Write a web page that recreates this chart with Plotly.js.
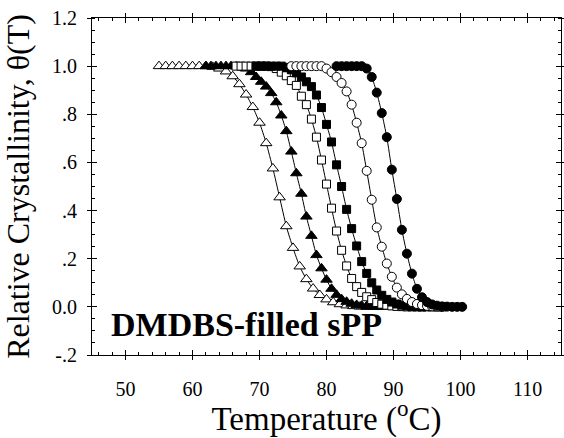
<!DOCTYPE html>
<html>
<head>
<meta charset="utf-8">
<script src="https://cdn.plot.ly/plotly-3.0.1.min.js"></script>
<style>html,body{margin:0;padding:0;background:#fff;}#chart{width:564px;height:438px;}</style>
</head>
<body>
<div id="chart"></div>
<script>
// Open triangles
const tOpenTri = [55,56,57,58,59,60,61,62,63,64,65,66,67,68,69,70,71,72,73,74,75,76,77,78,79,80,81,82,83,84,85,86,87,88];
const vOpenTri = [1,1,1,1,1,1,1,1,0.997,0.99,0.978,0.958,0.925,0.882,0.83,0.765,0.68,0.575,0.455,0.335,0.245,0.168,0.115,0.076,0.049,0.031,0.019,0.011,0.006,0.003,0.001,0,0,0];
// Filled triangles
const tFillTri = [62.0,62.75,63.5,64.25,65.0,65.75,66.5,67.25,68.0,68.75,69.5,70.25,71.0,71.75,72.5,73.25,74.0,74.75,75.5,76.25,77.0,77.75,78.5,79.25,80.0,80.75,81.5,82.25,83.0,83.75,84.5,85.25,86.0,86.75,87.5,88.25,89.0];
const vFillTri = [1,1,1,1,1,1,0.999,0.997,0.99,0.975,0.955,0.935,0.915,0.888,0.85,0.795,0.73,0.645,0.555,0.47,0.375,0.295,0.215,0.16,0.113,0.075,0.05,0.032,0.021,0.013,0.008,0.005,0.003,0.002,0.001,0,0];
// Open squares
const tOpenSq = [66.5,67.25,68.0,68.75,69.5,70.25,71.0,71.75,72.5,73.25,74.0,74.75,75.5,76.25,77.0,77.75,78.5,79.25,80.0,80.75,81.5,82.25,83.0,83.75,84.5,85.25,86.0,86.75,87.5,88.25,89.0,89.75,90.5,91.25,92.0,92.75,93.5,94.25];
const vOpenSq = [1,1,1,1,1,1,1,0.998,0.99,0.975,0.96,0.94,0.92,0.875,0.84,0.78,0.705,0.61,0.51,0.41,0.315,0.235,0.17,0.118,0.084,0.06,0.042,0.03,0.018,0.011,0.007,0.004,0.002,0.001,0,0,0,0];
// Filled squares
const tFillSq = [69.5,70.25,71.0,71.75,72.5,73.25,74.0,74.75,75.5,76.25,77.0,77.75,78.5,79.25,80.0,80.75,81.5,82.25,83.0,83.75,84.5,85.25,86.0,86.75,87.5,88.25,89.0,89.75,90.5,91.25,92.0,92.75,93.5,94.25,95.0,95.75,96.5,97.25];
const vFillSq = [1,1,1,1,1,1,0.995,0.985,0.972,0.955,0.935,0.915,0.88,0.828,0.758,0.685,0.59,0.5,0.405,0.325,0.253,0.188,0.139,0.1,0.07,0.048,0.031,0.02,0.012,0.007,0.004,0.002,0.001,0,0,0,0,0];
// Open circles
const tOpenCir = [74.75,75.5,76.25,77.0,77.75,78.5,79.25,80.0,80.75,81.5,82.25,83.0,83.75,84.5,85.25,86.0,86.75,87.5,88.25,89.0,89.75,90.5,91.25,92.0,92.75,93.5,94.25,95.0,95.75,96.5,97.25];
const vOpenCir = [1,1,1,1,1,1,1,0.99,0.975,0.955,0.93,0.895,0.84,0.765,0.68,0.565,0.445,0.33,0.25,0.18,0.125,0.08,0.052,0.033,0.02,0.012,0.007,0.004,0.002,0.001,0];
// Filled circles
const tFillCir = [81.5,82.25,83.0,83.75,84.5,85.25,86.0,86.75,87.5,88.25,89.0,89.75,90.5,91.25,92.0,92.75,93.5,94.25,95.0,95.75,96.5,97.25,98.0,98.75,99.5,100.25];
const vFillCir = [1,1,1,1,1,1,0.99,0.955,0.89,0.805,0.705,0.57,0.448,0.32,0.221,0.138,0.075,0.04,0.02,0.01,0.005,0.002,0.001,0,0,0];

const yTickVals = [-0.2,0,0.2,0.4,0.6,0.8,1.0,1.2];
const yTickText = ['-.2','0.0','.2','.4','.6','.8','1.0','1.2'];
const xTickVals = [50,60,70,80,90,100,110];

const FONT = 'Liberation Serif';

function series(x, y, symbol, fill, size) {
  return {
    x: x, y: y, type: 'scatter', mode: 'lines+markers',
    line: {color: '#000', width: 1, shape: 'spline', smoothing: 0.6},
    marker: {symbol: symbol, size: size, color: fill, line: {color: '#000', width: 1}},
    showlegend: false, hoverinfo: 'skip'
  };
}

const traces = [
  series(tOpenTri, vOpenTri, 'triangle-up', '#fff', 10),
  series(tFillTri, vFillTri, 'triangle-up', '#000', 10),
  series(tOpenSq, vOpenSq, 'square', '#fff', 8),
  series(tFillSq, vFillSq, 'square', '#000', 8),
  series(tOpenCir, vOpenCir, 'circle', '#fff', 9),
  series(tFillCir, vFillCir, 'circle', '#000', 9),
  {x: [], y: [], xaxis: 'x2', yaxis: 'y2', type: 'scatter', mode: 'markers', showlegend: false}
];

const axCommon = {
  showgrid: false, zeroline: false, linecolor: '#000', linewidth: 1,
  tickcolor: '#000', tickwidth: 1, color: '#000'
};

const layout = {
  width: 564, height: 438,
  margin: {l: 92, r: 3, t: 18, b: 83},
  paper_bgcolor: '#fff', plot_bgcolor: '#fff',
  font: {family: FONT, color: '#000'},
  xaxis: Object.assign({}, axCommon, {
    range: [45, 115], tickvals: xTickVals, ticks: 'outside', ticklen: 4,
    showline: true, mirror: 'ticks', ticklabelstandoff: 12,
    tickfont: {family: FONT, size: 20, color: '#000'},
    minor: {dtick: 2, tick0: 50, ticks: 'inside', ticklen: 3, tickcolor: '#000', showgrid: false},
    title: {text: 'Temperature (<sup>o</sup>C)', font: {family: FONT, size: 33, color: '#000'}, standoff: 11},
    automargin: false
  }),
  yaxis: Object.assign({}, axCommon, {
    range: [-0.2, 1.2], tickvals: yTickVals, ticktext: yTickText, ticks: 'outside', ticklen: 4,
    showline: true, mirror: 'ticks', ticklabelstandoff: 6,
    tickfont: {family: FONT, size: 20, color: '#000'},
    minor: {dtick: 0.05, tick0: 0, ticks: 'inside', ticklen: 3, tickcolor: '#000', showgrid: false},
    title: {text: 'Relative Crystallinity, θ(T)', font: {family: FONT, size: 32, color: '#000'}, standoff: 13},
    automargin: false
  }),
  xaxis2: Object.assign({}, axCommon, {
    range: [45, 115], tickvals: xTickVals, ticks: 'inside', ticklen: 5,
    showline: false, mirror: 'ticks', showticklabels: false, overlaying: 'x', anchor: 'y2', side: 'bottom'
  }),
  yaxis2: Object.assign({}, axCommon, {
    range: [-0.2, 1.2], tickvals: yTickVals, ticks: 'inside', ticklen: 5,
    showline: false, mirror: 'ticks', showticklabels: false, overlaying: 'y', anchor: 'x2', side: 'left'
  }),
  annotations: [{
    x: 47.6, y: -0.075, xref: 'x', yref: 'y', xanchor: 'left', yanchor: 'middle',
    text: '<b>DMDBS-filled sPP</b>', showarrow: false,
    font: {family: FONT, size: 34, color: '#000'}
  }]
};

Plotly.newPlot('chart', traces, layout, {staticPlot: true, displayModeBar: false});
</script>
</body>
</html>
